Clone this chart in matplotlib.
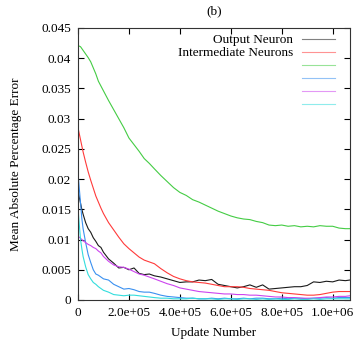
import matplotlib

matplotlib.use("Agg")
import matplotlib.pyplot as plt
from matplotlib.lines import Line2D

# update number, in units of 1e5
updates = [0, 0.05, 0.1, 0.15, 0.2, 0.3, 0.4, 0.5, 0.6, 0.7, 0.8, 0.9, 1.0,
           1.2, 1.4, 1.6, 1.8, 2.0, 2.2, 2.4, 2.6, 2.8, 3.0, 3.25, 3.5, 3.75,
           4.0, 4.25, 4.5, 4.75, 5.0, 5.25, 5.5, 5.75, 6.0, 6.25, 6.5, 6.75,
           7.0, 7.25, 7.5, 7.75, 8.0, 8.25, 8.5, 8.75, 9.0, 9.25, 9.5, 9.75,
           10.0, 10.25, 10.5, 10.67]

output_neuron = [0.0180, 0.0170, 0.0160, 0.0150, 0.0142, 0.0128, 0.0118, 0.0112,
                 0.0103, 0.0097, 0.0090, 0.0087, 0.0079, 0.0068, 0.0061, 0.0053,
                 0.0054, 0.0050, 0.0053, 0.0044, 0.0042, 0.0043, 0.0040, 0.0038,
                 0.0035, 0.0032, 0.0029, 0.0030, 0.0030, 0.0033, 0.0032, 0.0034,
                 0.0026, 0.0024, 0.0022, 0.0020, 0.0022, 0.0025, 0.0021, 0.0025,
                 0.0018, 0.0019, 0.0020, 0.0021, 0.0022, 0.0022, 0.0024, 0.0030,
                 0.0029, 0.0031, 0.0030, 0.0033, 0.0032, 0.0033]

neuron_red = [0.0285, 0.0275, 0.0265, 0.0255, 0.0245, 0.0228, 0.0212, 0.0198,
              0.0185, 0.0172, 0.0162, 0.0152, 0.0143, 0.0128, 0.0116, 0.0104,
              0.0093, 0.0085, 0.0078, 0.0071, 0.0066, 0.0063, 0.0060, 0.0052,
              0.0045, 0.0039, 0.0035, 0.0032, 0.0030, 0.0029, 0.0028, 0.0026,
              0.0024, 0.0022, 0.0022, 0.0022, 0.0021, 0.0019, 0.0018, 0.0017,
              0.0016, 0.0014, 0.0012, 0.0011, 0.0010, 0.0009, 0.0008, 0.0008,
              0.0009, 0.0011, 0.0013, 0.0014, 0.0014, 0.0014]

neuron_green = [0.0421, 0.0420, 0.0419, 0.0416, 0.0413, 0.0407, 0.0401, 0.0394,
                0.0384, 0.0374, 0.0362, 0.0354, 0.0346, 0.0330, 0.0315, 0.0300,
                0.0285, 0.0268, 0.0257, 0.0246, 0.0234, 0.0226, 0.0217, 0.0206,
                0.0196, 0.0186, 0.0178, 0.0173, 0.0166, 0.0162, 0.0157, 0.0152,
                0.0147, 0.0143, 0.0139, 0.0136, 0.0134, 0.0133, 0.0130, 0.0128,
                0.0124, 0.0123, 0.0124, 0.0122, 0.0123, 0.0121, 0.0122, 0.0121,
                0.0123, 0.0122, 0.0122, 0.0119, 0.0118, 0.0118]

neuron_blue = [0.0210, 0.0185, 0.0160, 0.0135, 0.0118, 0.0095, 0.0075, 0.0062,
               0.0050, 0.0043, 0.0041, 0.0038, 0.0035, 0.0033, 0.0026, 0.0022,
               0.0018, 0.0019, 0.0017, 0.0014, 0.0013, 0.0013, 0.0011, 0.0008,
               0.0006, 0.0005, 0.0004, 0.0003, 0.0003, 0.0002, 0.0002, 0.0003,
               0.0002, 0.0003, 0.0002, 0.0002, 0.0003, 0.0002, 0.0003, 0.0003,
               0.0002, 0.0002, 0.0003, 0.0002, 0.0003, 0.0003, 0.0002, 0.0003,
               0.0003, 0.0004, 0.0003, 0.0004, 0.0004, 0.0004]

neuron_magenta = [0.0105, 0.0104, 0.0102, 0.0100, 0.0098, 0.0095, 0.0092, 0.0090,
                  0.0087, 0.0085, 0.0081, 0.0078, 0.0072, 0.0064, 0.0058, 0.0055,
                  0.0054, 0.0051, 0.0047, 0.0043, 0.0041, 0.0038, 0.0035, 0.0031,
                  0.0027, 0.0024, 0.0020, 0.0018, 0.0016, 0.0014, 0.0013, 0.0012,
                  0.0011, 0.0010, 0.0010, 0.0009, 0.0009, 0.0008, 0.0008, 0.0007,
                  0.0006, 0.0005, 0.0005, 0.0004, 0.0004, 0.0003, 0.0003, 0.0003,
                  0.0004, 0.0005, 0.0005, 0.0006, 0.0006, 0.0007]

neuron_cyan = [0.0152, 0.0125, 0.0100, 0.0085, 0.0072, 0.0055, 0.0042, 0.0035,
               0.0029, 0.0026, 0.0022, 0.0019, 0.0016, 0.0013, 0.0009, 0.0008,
               0.0007, 0.0008, 0.0008, 0.0007, 0.0006, 0.0005, 0.0004, 0.0003,
               0.0003, 0.0002, 0.0002, 0.0002, 0.0003, 0.0002, 0.0002, 0.0002,
               0.0001, 0.0002, 0.0002, 0.0001, 0.0002, 0.0002, 0.0001, 0.0002,
               0.0001, 0.0002, 0.0001, 0.0001, 0.0002, 0.0001, 0.0001, 0.0002,
               0.0001, 0.0002, 0.0002, 0.0002, 0.0002, 0.0002]

series_labels = ["Output Neuron", "Intermediate Neurons", " ", " ", " ", " "]
x_ticks = [0, 2e5, 4e5, 6e5, 8e5, 1e6]
x_tick_labels = ["0", "2.0e+05", "4.0e+05", "6.0e+05", "8.0e+05", "1.0e+06"]
y_ticks = [0, 0.005, 0.01, 0.015, 0.02, 0.025, 0.03, 0.035, 0.04, 0.045]
y_tick_labels = ["0", "0.005", "0.01", "0.015", "0.02", "0.025", "0.03",
                 "0.035", "0.04", "0.045"]

plt.rcParams["font.family"] = ["Liberation Serif", "DejaVu Serif"]
plt.rcParams["font.size"] = 9.5

fig = plt.figure(figsize=(3.61, 3.41), dpi=100)
ax = fig.add_axes([78 / 361, 1 - 300 / 341, 272 / 361, 272 / 341])

x = [u * 1e5 for u in updates]
colors = ["#1a1a1a", "#ff3a3a", "#44cc44", "#3a90f0", "#cc44ee", "#33dddd"]
all_series = [output_neuron, neuron_red, neuron_green, neuron_blue,
              neuron_magenta, neuron_cyan]

handles = []
for ys, c in zip(all_series, colors):
    ax.plot(x, ys, color=c, linewidth=0.8)
    handles.append(Line2D([], [], color=c, linewidth=0.8, alpha=0.55))

ax.set_xlim(0, 1.068e6)
ax.set_ylim(0, 0.045)
ax.set_xticks(x_ticks)
ax.set_xticklabels(x_tick_labels)
ax.set_yticks(y_ticks)
ax.set_yticklabels(y_tick_labels)
ax.tick_params(direction="in", length=4, width=0.8, top=True, right=True,
               pad=5, labelsize=9.5)
for sp in ax.spines.values():
    sp.set_linewidth(0.8)
    sp.set_color("#333333")

ax.set_xlabel("Update Number", labelpad=6)
ax.set_ylabel("Mean Absolute Percentage Error", labelpad=14)
ax.set_title("(b)", fontsize=9.5, pad=10)

ax.legend(handles, series_labels, loc="upper right", frameon=False,
          markerfirst=False, handlelength=2.5, handletextpad=0.7,
          labelspacing=0.06, borderaxespad=0.0, fontsize=9.5,
          bbox_to_anchor=(0.965, 0.997))

fig.savefig("out.png", dpi=100)
